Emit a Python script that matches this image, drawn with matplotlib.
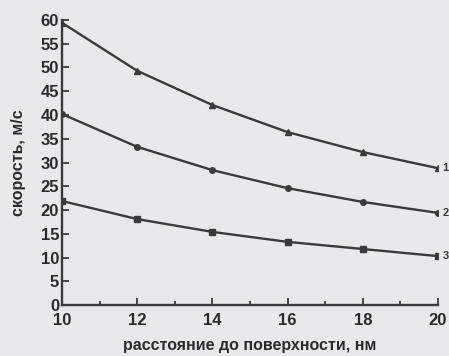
import matplotlib
matplotlib.use("Agg")
from matplotlib import pyplot as plt
from matplotlib.ticker import MultipleLocator

# distance to surface, nm
distance = [10, 12, 14, 16, 18, 20]
# velocity, m/s for the three curves
speed_1 = [59.4, 49.3, 42.1, 36.4, 32.2, 28.8]
speed_2 = [40.2, 33.3, 28.4, 24.6, 21.7, 19.4]
speed_3 = [21.9, 18.1, 15.4, 13.3, 11.8, 10.3]
curve_labels = ["1", "2", "3"]

bg = "#e9e9ed"
ink = "#3a3a3a"
plt.rcParams['font.family'] = ['Liberation Sans', 'DejaVu Sans']

fig = plt.figure(figsize=(4.49, 3.56), dpi=100, facecolor=bg)
ax = fig.add_axes([0.138, 0.143, 0.8375, 0.801], facecolor=bg)

series = [(speed_1, "^"), (speed_2, "o"), (speed_3, "s")]
for (vals, mk), lab in zip(series, curve_labels):
    ax.plot(distance, vals, color=ink, lw=1.7, marker=mk, ms=4, mfc=ink, mec=ink)
    ax.text(distance[-1] + 0.12, vals[-1], lab, color=ink, fontsize=8,
            fontweight='bold', va='center', ha='left', clip_on=False)

ax.set_xlim(10, 20)
ax.set_ylim(0, 60)
ax.xaxis.set_major_locator(MultipleLocator(2))
ax.xaxis.set_minor_locator(MultipleLocator(1))
ax.yaxis.set_major_locator(MultipleLocator(5))

for s in ["top", "right"]:
    ax.spines[s].set_visible(False)
for s in ["left", "bottom"]:
    ax.spines[s].set_color(ink)
    ax.spines[s].set_linewidth(1.7)

ax.tick_params(which='both', direction='in', colors=ink, width=1.3)
ax.tick_params(which='major', length=5, labelsize=12, pad=2)
ax.tick_params(axis='x', which='major', pad=6)
ax.tick_params(which='minor', length=3)
for t in ax.get_xticklabels() + ax.get_yticklabels():
    t.set_fontweight('bold')
    t.set_color("#2a2a2a")

ax.set_ylabel("скорость, м/с", fontsize=11.5, fontweight='bold', color="#2a2a2a")
ax.yaxis.set_label_coords(-0.095, 0.5)
ax.set_xlabel("расстояние до поверхности, нм", fontsize=11.5, fontweight='bold',
              color="#2a2a2a")
ax.xaxis.set_label_coords(0.5, -0.115)

fig.savefig("out.png", dpi=100, facecolor=bg)
